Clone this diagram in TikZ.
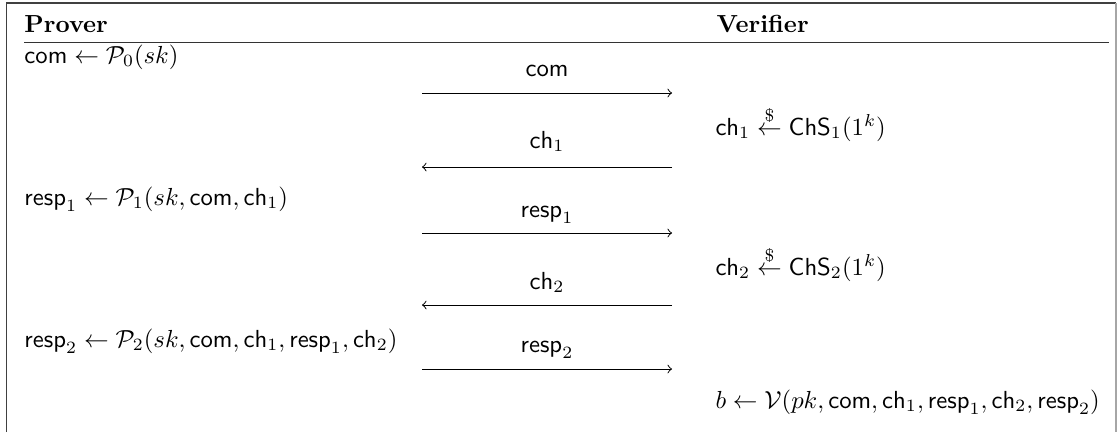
\documentclass[tikz,border=0pt]{standalone}
\usepackage{amsmath}
\usetikzlibrary{arrows}
\newcommand{\sfc}{\mathsf{com}}
\newcommand{\sfch}{\mathsf{ch}}
\newcommand{\sfresp}{\mathsf{resp}}
\newcommand{\rnd}{\stackrel{\$}{\leftarrow}}
\begin{document}
\begin{tikzpicture}[x=0.405pt,y=-0.405pt,
  frame/.style={line width=0.75pt,draw=black!75},
  headrule/.style={line width=0.55pt,draw=black!80},
  msg/.style={line width=0.4pt,->,>=to},
  lcol/.style={anchor=base west,inner sep=0pt},
  rcol/.style={anchor=base west,inner sep=0pt},
  lbl/.style={anchor=base,inner sep=0pt}]
\useasboundingbox (0,0) rectangle (1117,432);
% outer frame (open at the bottom)
\draw[frame] (6.5,432) -- (6.5,3) -- (1116,3);
\draw[line width=0.6pt,draw=black!35] (1116,3) -- (1116,432);
% column headings
\node[lcol] (hp) at (24,32) {\textbf{Prover}};
\node[rcol] (hv) at (716,32) {\textbf{Verifier}};
\coordinate (rl) at (24,42.5);
\coordinate (rr) at (1109,42.5);
\draw[headrule] (rl) -- (rr);
% prover steps
\node[lcol] (p0) at (24,63) {$\sfc \leftarrow \mathcal{P}_0(sk)$};
\node[lcol] (p1) at (24,205) {$\sfresp_1 \leftarrow \mathcal{P}_1(sk,\sfc,\sfch_1)$};
\node[lcol] (p2) at (24,347) {$\sfresp_2 \leftarrow \mathcal{P}_2(sk,\sfc,\sfch_1,\sfresp_1,\sfch_2)$};
% verifier steps
\node[rcol] (v1) at (715,135) {$\sfch_1 \rnd \mathsf{ChS}_1(1^k)$};
\node[rcol] (v2) at (715,275) {$\sfch_2 \rnd \mathsf{ChS}_2(1^k)$};
\node[rcol] (v3) at (715,408) {$b \leftarrow \mathcal{V}(pk,\sfc,\sfch_1,\sfresp_1,\sfch_2,\sfresp_2)$};
% messages
\node[lbl] (m1) at (547,76) {$\sfc$};
\node[lbl] (m2) at (547,148) {$\sfch_1$};
\node[lbl] (m3) at (547,217) {$\sfresp_1$};
\node[lbl] (m4) at (547,289) {$\sfch_2$};
\node[lbl] (m5) at (547,352) {$\sfresp_2$};
\coordinate (a1l) at (422,93);  \coordinate (a1r) at (672,93);
\coordinate (a2l) at (422,167); \coordinate (a2r) at (672,167);
\coordinate (a3l) at (422,233); \coordinate (a3r) at (672,233);
\coordinate (a4l) at (422,305); \coordinate (a4r) at (672,305);
\coordinate (a5l) at (422,369); \coordinate (a5r) at (672,369);
\draw[msg] (a1l) -- (a1r);
\draw[msg] (a2r) -- (a2l);
\draw[msg] (a3l) -- (a3r);
\draw[msg] (a4r) -- (a4l);
\draw[msg] (a5l) -- (a5r);
\end{tikzpicture}
\end{document}
